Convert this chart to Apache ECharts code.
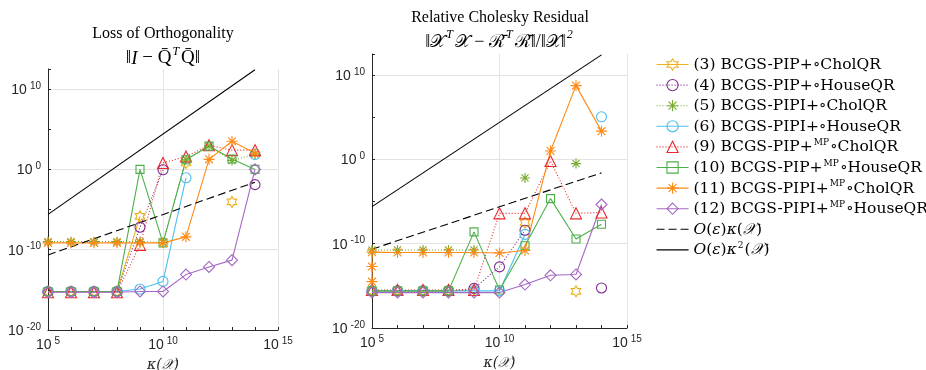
<!DOCTYPE html>
<html><head><meta charset="utf-8">
<script src="https://cdn.jsdelivr.net/npm/echarts@6/dist/echarts.min.js"></script>
<style>html,body{margin:0;padding:0;background:#fff}#c{width:926px;height:370px}</style>
</head><body><div id="c"></div>
<script>
// x values: log10 of kappa(X)
const kappaExp = [5, 6, 7, 8, 9, 10, 11, 12, 13, 14];
const xTickLabels = [5, 10, 15];
const yTickLabels = [-20, -10, 0, 10];

const names = [
  '(3) BCGS-PIP+∘CholQR', '(4) BCGS-PIP+∘HouseQR', '(5) BCGS-PIPI+∘CholQR', '(6) BCGS-PIPI+∘HouseQR',
  '(9) BCGS-PIP+MP∘CholQR', '(10) BCGS-PIP+MP∘HouseQR', '(11) BCGS-PIPI+MP∘CholQR', '(12) BCGS-PIPI+MP∘HouseQR',
  'O(ε)κ(𝒳)', 'O(ε)κ2(𝒳)'
];

// Left panel: loss of orthogonality, log10 values (null = not drawn)
const lossP3  = [-15.2, -15.2, -15.2, -15.2, -5.85, null, 0.8, null, -4.05, null];
const lossP4  = [-15.2, -15.2, -15.2, -15.2, -7.2, -0.05, null, null, null, -1.9];
const lossP5  = [-9.0, -9.0, -9.0, -9.0, -9.0, -9.1, 1.2, 2.9, 1.1, 1.9];
const lossP6  = [-15.2, -15.2, -15.2, -15.2, -14.9, -13.95, -1.05, null, null, 1.85];
const lossP9  = [-15.3, -15.3, -15.3, -15.3, -9.4, 0.8, 1.6, 3.0, 2.4, 2.4];
const lossP10 = [-15.2, -15.2, -15.2, -15.2, 0.0, -9.15, 1.2, 2.9, 1.3, 0.0];
const lossP11 = [-9.15, -9.15, -9.15, -9.15, -9.15, -9.15, -8.4, 1.25, 3.5, 2.0];
const lossP12 = [-15.3, -15.3, -15.3, -15.3, -15.2, -15.2, -13.1, -12.15, -11.3, 0.0];

// Right panel: relative Cholesky residual, log10 values
const resP3  = [-15.6, -15.6, -15.6, -15.6, -15.5, null, -7.5, null, -15.65, null];
const resP4  = [-15.6, -15.6, -15.6, -15.6, -15.3, -12.75, -8.4, null, null, -15.25];
const resP5  = [-10.75, -10.75, -10.75, -10.75, -10.75, null, -2.2, null, -0.5, null];
const resP6  = [-15.6, -15.6, -15.6, -15.6, -15.6, -15.6, -8.9, null, null, 5.05];
const resP9  = [-15.5, -15.5, -15.5, -15.5, -15.5, -6.4, -6.4, -0.2, -6.4, -6.3];
const resP10 = [-15.6, -15.6, -15.6, -15.6, -8.6, -15.5, -10.25, -4.65, -9.45, -7.7];
const resP11 = [-11.0, -11.05, -11.05, -11.05, -11.05, -11.1, -10.8, 1.0, 8.75, 3.35];
const resP11ExtraAtFirstKappa = [-14.5, -12.7];
const resP12 = [-15.8, -15.8, -15.8, -15.8, -15.8, -15.8, -14.85, -13.75, -13.65, -5.35];

// Reference lines (log10 values at kappa = 1e5 and 1e14)
const refKappaExp = [5, 14];
const refEpsKappa = [-10.65, -1.6];
const refEpsKappa2 = [-5.6, 12.4];

const HEX = 'path://M5,0L6.443,2.5L9.33,2.5L7.887,5L9.33,7.5L6.443,7.5L5,10L3.557,7.5L0.67,7.5L2.113,5L0.67,2.5L3.557,2.5Z';
const AST = 'path://M5,0L5,10M0,5L10,5M1.46,1.46L8.54,8.54M8.54,1.46L1.46,8.54';
const DOT = [1, 2];
const styles = [
  {color: '#EDB120', symbol: HEX, size: 11, type: 'solid'},
  {color: '#7E2F8E', symbol: 'circle', size: 10, type: DOT},
  {color: '#77AC30', symbol: AST, size: 10, type: DOT},
  {color: '#4DBEEE', symbol: 'circle', size: 10, type: 'solid'},
  {color: '#E8282B', symbol: 'triangle', size: 11, type: DOT},
  {color: '#4DAF4A', symbol: 'rect', size: 8, type: 'solid'},
  {color: '#FF8A14', symbol: AST, size: 11, type: 'solid'},
  {color: '#A468C2', symbol: 'diamond', size: 11, type: 'solid'}
];

const leftData = [lossP3, lossP4, lossP5, lossP6, lossP9, lossP10, lossP11, lossP12];
const rightData = [resP3, resP4, resP5, resP6, resP9, resP10, resP11, resP12];

function toPairs(vals) {
  return vals.map((v, i) => [kappaExp[i], v === null ? '-' : v]);
}

const series = [];
[leftData, rightData].forEach((panel, g) => {
  panel.forEach((vals, k) => {
    const st = styles[k];
    let data = toPairs(vals);
    if (g === 1 && k === 6) {
      data = resP11ExtraAtFirstKappa.map(v => [kappaExp[0], v]).concat(data);
    }
    series.push({
      type: 'line', name: names[k], xAxisIndex: g, yAxisIndex: g, data,
      symbol: st.symbol, symbolSize: st.size, symbolKeepAspect: true, showSymbol: true,
      lineStyle: {color: st.color, width: 1.1, type: st.type},
      itemStyle: {color: 'rgba(0,0,0,0)', borderColor: st.color, borderWidth: 1.1},
      emphasis: {disabled: true}, animation: false, connectNulls: false
    });
  });
  series.push({
    type: 'line', name: names[8], xAxisIndex: g, yAxisIndex: g,
    data: refKappaExp.map((x, i) => [x, refEpsKappa[i]]),
    symbol: 'none', lineStyle: {color: '#000', width: 1.1, type: [8, 4]},
    itemStyle: {color: 'rgba(0,0,0,0)', borderWidth: 0},
    emphasis: {disabled: true}, animation: false
  });
  series.push({
    type: 'line', name: names[9], xAxisIndex: g, yAxisIndex: g,
    data: refKappaExp.map((x, i) => [x, refEpsKappa2[i]]),
    symbol: 'none', lineStyle: {color: '#000', width: 1.1, type: 'solid'},
    itemStyle: {color: 'rgba(0,0,0,0)', borderWidth: 0},
    emphasis: {disabled: true}, animation: false
  });
});

const AX = '#262626';
const GRIDC = '#e3e3e3';
const T = 'rgba(0,0,0,0)';
const tickRich = {
  b: {fontFamily: 'Liberation Sans', fontSize: 14, color: AX, lineHeight: 16, verticalAlign: 'bottom'},
  s: {fontFamily: 'Liberation Sans', fontSize: 10, color: AX, lineHeight: 10, verticalAlign: 'top', padding: [0, 0, 0, 3]}
};
function xAx(g) {
  return {
    gridIndex: g, type: 'value', min: 5, max: 15, interval: 1,
    axisLine: {show: true, onZero: false, lineStyle: {color: AX, width: 1}},
    axisTick: {show: true, inside: true, length: 3, lineStyle: {color: AX}},
    axisLabel: {margin: 6, formatter: v => xTickLabels.indexOf(v) >= 0 ? '{b|10}{s|' + v + '}' : '', rich: tickRich},
    splitLine: {show: true, lineStyle: {color: [GRIDC, T, T, T, T], width: 1}},
    name: 'κ(𝒳)', nameLocation: 'middle', nameGap: 28,
    nameTextStyle: {fontFamily: 'DejaVu Serif', fontStyle: 'italic', fontSize: 14, color: AX}
  };
}
function yAx(g) {
  return {
    gridIndex: g, type: 'value', min: -20, max: 12.5, interval: 5,
    axisLine: {show: true, onZero: false, lineStyle: {color: AX, width: 1}},
    axisTick: {show: true, inside: true, length: 3, lineStyle: {color: AX}},
    axisLabel: {margin: 7, formatter: v => yTickLabels.indexOf(v) >= 0 ? '{b|10}{s|' + v + '}' : '', rich: tickRich},
    splitLine: {show: true, lineStyle: {color: [GRIDC, T], width: 1}}
  };
}

const SERIF = 'Liberation Serif';
const titleRich = {
  n: {fontFamily: SERIF, fontSize: 19, lineHeight: 22, fill: '#000', verticalAlign: 'bottom'},
  i: {fontFamily: SERIF, fontStyle: 'italic', fontSize: 19, lineHeight: 22, fill: '#000', verticalAlign: 'bottom'},
  m: {fontFamily: 'DejaVu Serif', fontSize: 18, lineHeight: 22, fill: '#000', verticalAlign: 'bottom'},
  n2: {fontFamily: SERIF, fontSize: 18, lineHeight: 22, fill: '#000', verticalAlign: 'bottom'},
  sup: {fontFamily: SERIF, fontStyle: 'italic', fontSize: 12, lineHeight: 12, fill: '#000', verticalAlign: 'top', padding: [0, 2, 0, 1]}
};
function titleText(x, y, text) {
  return {type: 'text', x, y, silent: true,
    style: {text, align: 'center', verticalAlign: 'middle', fontFamily: SERIF, fontSize: 16, fill: '#000', rich: titleRich}};
}

const legendLabels = {};
names.forEach(n => {
  legendLabels[n] = '{t|' + n.replace('+MP', '+}{sup|MP}{t|') + '}';
});
legendLabels[names[8]] = '{it|O}{t|(}{it|ε}{t|)}{it|κ}{t|(}{it|𝒳}{t|)}';
legendLabels[names[9]] = '{it|O}{t|(}{it|ε}{t|)}{it|κ}{sup|2}{t|(}{it|𝒳}{t|)}';

const LSERIF = 'DejaVu Serif';
const legendRich = {
  t: {fontFamily: LSERIF, fontSize: 15.5, lineHeight: 17, color: '#000', verticalAlign: 'bottom'},
  it: {fontFamily: LSERIF, fontStyle: 'italic', fontSize: 15.5, lineHeight: 17, color: '#000', verticalAlign: 'bottom'},
  sup: {fontFamily: LSERIF, fontSize: 9, lineHeight: 9, color: '#000', verticalAlign: 'top', padding: [0, 1, 0, 1]}
};

const legendData = names.map((n, k) => k < 8
  ? {name: n, itemStyle: {borderWidth: 1.1}}
  : {name: n, itemStyle: {borderWidth: 0, color: T}});

const chart = echarts.init(document.getElementById('c'), null, {renderer: 'canvas'});
chart.setOption({
  animation: false,
  backgroundColor: '#fff',
  grid: [
    {left: 48, top: 69, width: 230, height: 261, containLabel: false, outerBoundsMode: 'none'},
    {left: 372, top: 54, width: 255, height: 274, containLabel: false, outerBoundsMode: 'none'}
  ],
  xAxis: [xAx(0), xAx(1)],
  yAxis: [yAx(0), yAx(1)],
  legend: {
    orient: 'vertical', left: 651, top: 51, itemWidth: 32, itemHeight: 14, itemGap: 3.6,
    data: legendData, selectedMode: false,
    formatter: n => legendLabels[n],
    lineStyle: {width: 1.1},
    textStyle: {fontFamily: LSERIF, fontSize: 15.5, lineHeight: 17, color: '#000', rich: legendRich}
  },
  graphic: [
    titleText(163, 34, 'Loss of Orthogonality'),
    titleText(163, 57, '{n|‖}{i|I}{n| − }{n|Q̄}{sup|T}{n|Q̄}{n|‖}'),
    titleText(500, 18, 'Relative Cholesky Residual'),
    titleText(500, 40, '{n2|‖}{m|𝒳}{sup|T}{m|𝒳}{n2| − }{m|ℛ̄}{sup|T}{m|ℛ̄}{n2|‖/‖}{m|𝒳}{n2|‖}{sup|2}')
  ],
  series
});
</script></body></html>
